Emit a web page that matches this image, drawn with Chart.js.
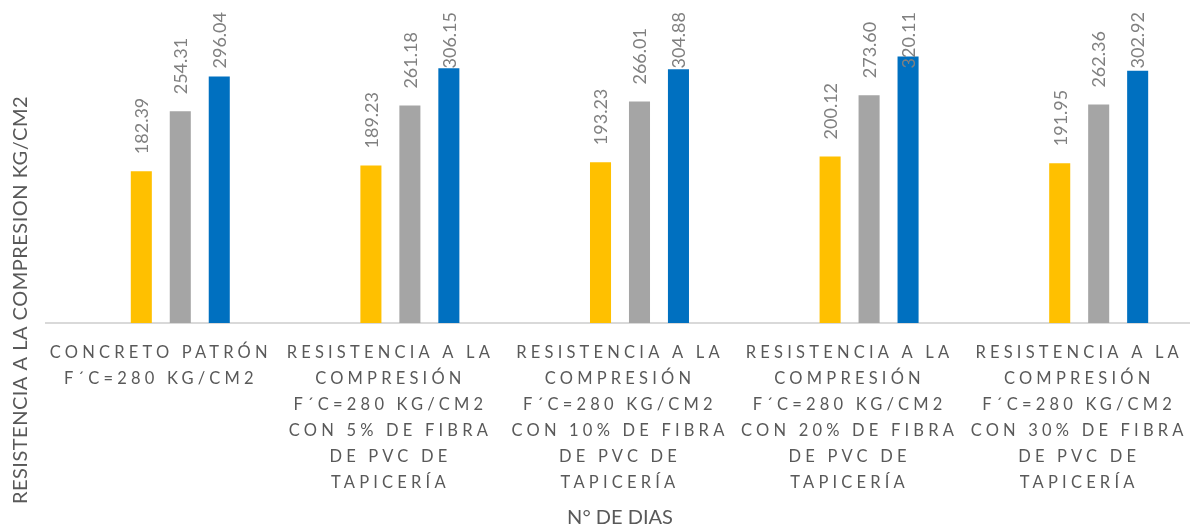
<!DOCTYPE html>
<html lang="es">
<head>
<meta charset="utf-8">
<title>Resistencia a la compresión</title>
<script src="https://cdn.jsdelivr.net/npm/chart.js@4.4.1/dist/chart.umd.min.js"></script>
<style>
    html, body { margin: 0; padding: 0; background: #fff; overflow: hidden; }
    #wrap { width: 1194px; height: 528px; }
</style>
</head>
<body>
<div id="wrap"><canvas id="chart" width="1194" height="528"></canvas></div>
<script>
// Datos
const categorias = [
    ['CONCRETO PATRÓN', 'F´C=280 KG/CM2'],
    ['RESISTENCIA A LA', 'COMPRESIÓN', 'F´C=280 KG/CM2', 'CON 5% DE FIBRA', 'DE PVC DE', 'TAPICERÍA'],
    ['RESISTENCIA A LA', 'COMPRESIÓN', 'F´C=280 KG/CM2', 'CON 10% DE FIBRA', 'DE PVC DE', 'TAPICERÍA'],
    ['RESISTENCIA A LA', 'COMPRESIÓN', 'F´C=280 KG/CM2', 'CON 20% DE FIBRA', 'DE PVC DE', 'TAPICERÍA'],
    ['RESISTENCIA A LA', 'COMPRESIÓN', 'F´C=280 KG/CM2', 'CON 30% DE FIBRA', 'DE PVC DE', 'TAPICERÍA']
];
const serieVacia = [null, null, null, null, null];
const dias7 = [182.39, 189.23, 193.23, 200.12, 191.95];
const dias14 = [254.31, 261.18, 266.01, 273.60, 262.36];
const dias28 = [296.04, 306.15, 304.88, 320.11, 302.92];
const tituloY = 'RESISTENCIA A LA COMPRESION KG/CM2';
const tituloX = 'N° DE DIAS';

// Etiquetas de datos + titulo del eje Y
const etiquetas = {
    id: 'etiquetas',
    afterDatasetsDraw(chart) {
        const ctx = chart.ctx;
        ctx.save();
        ctx.font = '18px Lato';
        ctx.fillStyle = '#808080';
        ctx.textAlign = 'left';
        ctx.textBaseline = 'middle';
        chart.data.datasets.forEach((ds, i) => {
            chart.getDatasetMeta(i).data.forEach((bar, j) => {
                const v = ds.data[j];
                if (v == null) return;
                const txt = v.toFixed(2);
                const w = ctx.measureText(txt).width;
                const base = Math.max(bar.y - 17, 12 + w);
                ctx.save();
                ctx.translate(bar.x + 1, base);
                ctx.rotate(-Math.PI / 2);
                ctx.fillText(txt, 0, 0);
                ctx.restore();
            });
        });

        ctx.font = '20px Lato';
        ctx.fillStyle = '#595959';
        ctx.letterSpacing = '0.5px';
        ctx.textAlign = 'center';
        ctx.translate(21, 300);
        ctx.rotate(-Math.PI / 2);
        ctx.fillText(tituloY, 0, 0);
        ctx.restore();

        // las etiquetas del eje X (ticks.z = 1) se dibujan despues, espaciadas
        ctx.letterSpacing = '4.2px';
    },
    afterDraw(chart) {
        chart.ctx.letterSpacing = '0px';
    }
};

const ctx = document.getElementById('chart').getContext('2d');
new Chart(ctx, {
    type: 'bar',
    data: {
        labels: categorias,
        datasets: [
            { label: '', data: serieVacia, backgroundColor: '#ffffff' },
            { label: '7 DIAS', data: dias7, backgroundColor: '#FFC000' },
            { label: '14 DIAS', data: dias14, backgroundColor: '#A5A5A5' },
            { label: '28 DIAS', data: dias28, backgroundColor: '#0070C0' }
        ]
    },
    options: {
        responsive: false,
        animation: false,
        categoryPercentage: 0.679,
        barPercentage: 0.54,
        layout: { padding: { left: 46, right: 0, top: 0, bottom: 0 } },
        plugins: {
            legend: { display: false },
            tooltip: { enabled: false }
        },
        scales: {
            y: {
                display: false,
                min: 0,
                max: 388
            },
            x: {
                grid: { display: false, drawTicks: false },
                border: { display: true, color: '#d9d9d9', width: 2 },
                ticks: {
                    z: 1,
                    padding: 17,
                    autoSkip: false,
                    maxRotation: 0,
                    minRotation: 0,
                    color: '#595959',
                    font: { family: 'Lato', size: 16.5, lineHeight: 26 / 16.5 }
                },
                title: {
                    display: true,
                    text: tituloX,
                    color: '#595959',
                    font: { family: 'Lato', size: 20, lineHeight: 1 },
                    padding: { top: 0, bottom: 0 }
                },
                afterFit(scale) {
                    scale.height = 205;
                }
            }
        }
    },
    plugins: [etiquetas]
});
</script>
</body>
</html>
